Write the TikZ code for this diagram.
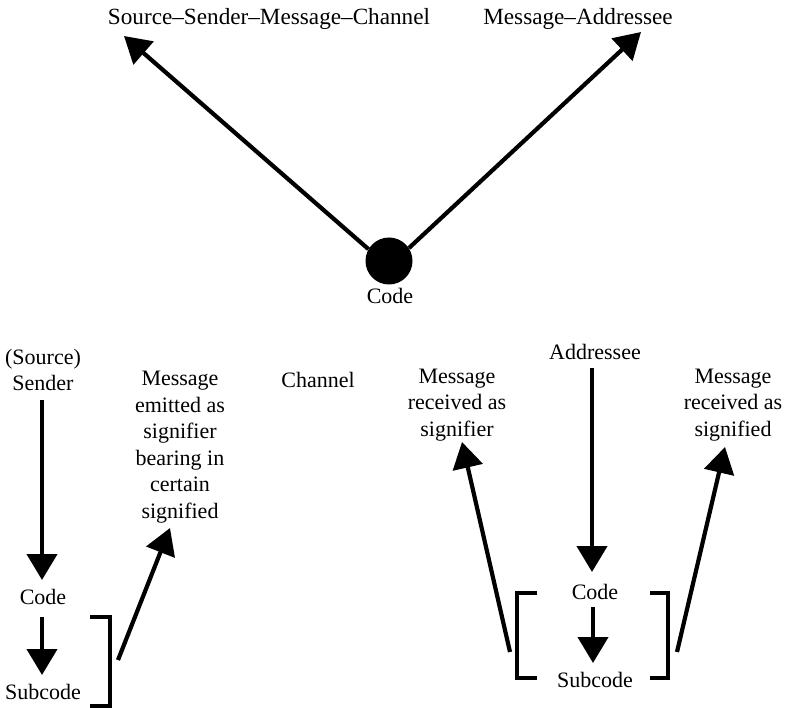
\documentclass[tikz,border=0pt]{standalone}
\usepackage{fontspec}
\setmainfont{Liberation Serif}
\usetikzlibrary{arrows.meta}
\begin{document}
\begin{tikzpicture}[x=1pt,y=-1pt,
  lbl/.style={inner sep=0pt,font=\fontsize{22}{26.5}\selectfont,align=center},
  toplbl/.style={inner sep=0pt,font=\fontsize{23.2}{27}\selectfont},
  arr/.style={line width=4.2pt,-{Triangle[length=26pt,width=30pt]}},
  brk/.style={line width=4.2pt}]
\useasboundingbox (0,0) rectangle (787,708);
% top
\node[toplbl] (t1) at (269,19) {Source--Sender--Message--Channel};
\node[toplbl] (t2) at (578,19) {Message--Addressee};
\node[circle,fill=black,minimum size=47pt,inner sep=0pt] (dot) at (389,261) {};
\node[lbl] (ctop) at (390,296) {Code};
\coordinate (tip1) at (124,36);
\coordinate (tip2) at (641,32);
\draw[arr] (dot.150) -- (tip1);
\draw[arr] (dot.33) -- (tip2);
% bottom left
\node[lbl] (src) at (43,370) {(Source)\\Sender};
\node[lbl] (code1) at (43,597) {Code};
\node[lbl] (sub1) at (43,692) {Subcode};
\node[lbl] (msg1) at (180,447) {Message\\emitted as\\signifier\\bearing in\\certain\\signified};
\node[lbl] (chan) at (318,380) {Channel};
\draw[arr] (42,400) -- (42,580);
\draw[arr] (42,617) -- (42,675);
\draw[brk] (90,617) -- (110,617) -- (110,706) -- (90,706);
\draw[arr] (118,660) -- (170,528);
% bottom right
\node[lbl] (addr) at (595,352) {Addressee};
\node[lbl] (code2) at (595,592) {Code};
\node[lbl] (sub2) at (595,680) {Subcode};
\node[lbl] (msg2) at (457,405) {Message\\received as\\signifier};
\node[lbl] (msg3) at (733,405) {Message\\received as\\signified};
\draw[arr] (592,368) -- (592,572);
\draw[arr] (593,607) -- (593,663);
\draw[brk] (537,593) -- (517,593) -- (517,678) -- (537,678);
\draw[brk] (650,593) -- (668,593) -- (668,678) -- (650,678);
\draw[arr] (510,652) -- (462,442);
\draw[arr] (677,652) -- (725,447);
\end{tikzpicture}
\end{document}
